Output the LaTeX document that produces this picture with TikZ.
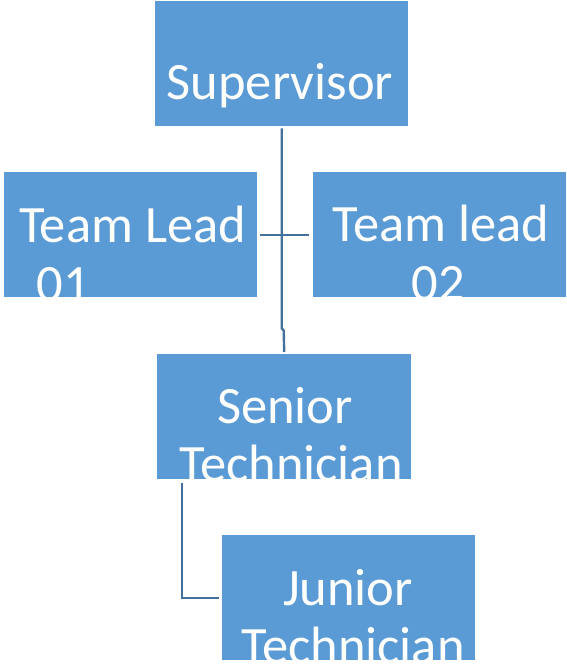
\documentclass[tikz,border=0pt]{standalone}
\usepackage{fontspec}
\setmainfont{Carlito}
\definecolor{boxblue}{HTML}{5B9BD5}
\definecolor{linkblue}{HTML}{41719C}
\begin{document}
\begin{tikzpicture}[x=1pt,y=-1pt,
  box/.style={fill=boxblue, draw=none, inner sep=0pt, minimum width=253pt, minimum height=125pt, anchor=north west},
  lbl/.style={text=white, font=\fontsize{52.5}{59}\selectfont, inner sep=0pt, anchor=base},
  link/.style={draw=linkblue, line width=2.4pt}]
\useasboundingbox (0,0) rectangle (566,666);
% boxes
\node[box] (sup) at (155,1) {};
\node[box] (tl1) at (4,172) {};
\node[box] (tl2) at (313,172) {};
\node[box, minimum width=254pt] (sen) at (157,354) {};
\node[box] (jun) at (222,535) {};
% texts
\node[lbl] (tsup) at (280,100) {Supervisor};
\node[lbl] (ttl1a) at (132.5,242) {Team Lead};
\node[lbl] (ttl1b) at (63,301) {01};
\node[lbl] (ttl2a) at (441,241) {Team lead};
\node[lbl] (ttl2b) at (438,300) {02};
\node[lbl] (tsena) at (285,423) {Senior};
\node[lbl] (tsenb) at (291,481) {Technician};
\node[lbl] (tjuna) at (348,605) {Junior};
\node[lbl] (tjunb) at (353,663) {Technician};
% connectors
\draw[link] ([yshift=-2pt]sup.south) -- ++(0,200) -- ++(2,2) -- ([yshift=2pt]sen.north);
\draw[link] ([xshift=3pt]tl1.east) -- ([xshift=-4pt]tl2.west);
\coordinate (sj) at (182,483);
\draw[link, shorten >=3pt] (sj) |- (jun.west);
\end{tikzpicture}
\end{document}
